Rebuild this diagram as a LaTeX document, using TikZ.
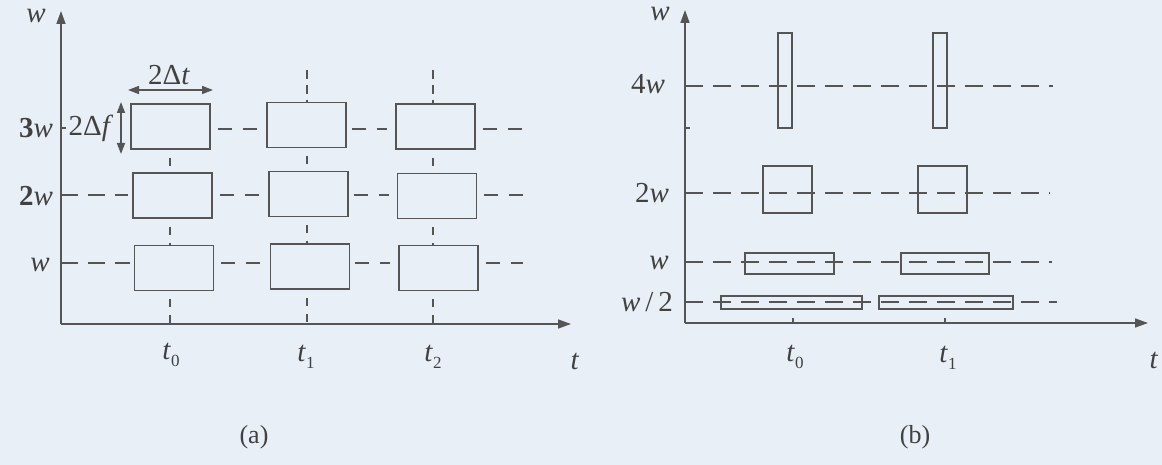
\documentclass[tikz,border=0pt]{standalone}
\usepackage{fontspec}
\setmainfont{Liberation Serif}
\usetikzlibrary{arrows.meta}
\definecolor{bg}{RGB}{232,239,246}
\definecolor{ink}{RGB}{85,85,85}
\definecolor{txt}{RGB}{65,65,65}
\newcommand{\tsub}[2]{\textit{#1}\raisebox{-7pt}{\fontsize{17}{18}\selectfont #2}}
\begin{document}
\begin{tikzpicture}[x=1pt,y=-1pt,line width=1.6pt,
  axis/.style={draw=ink,-{Triangle[length=13pt,width=9pt]}},
  dim/.style={draw=ink,{Triangle[length=11pt,width=8pt]}-{Triangle[length=11pt,width=8pt]}},
  tile/.style={draw=ink,line width=1.6pt,inner sep=0pt,minimum width=79pt,minimum height=45pt},
  bbox/.style={draw=ink,line width=1.6pt,inner sep=0pt},
  leftdash/.style={draw=ink,dash pattern=on 17pt off 10pt},
  gapdash/.style={draw=ink,dash pattern=on 14pt off 11pt},
  bdash/.style={draw=ink,dash pattern=on 18pt off 10pt},
  vgrid/.style={draw=ink,dash pattern=on 8pt off 8pt,dash phase=8pt},
  lab/.style={text=txt,inner sep=0pt,font=\fontsize{29}{32}\selectfont},
  captxt/.style={text=txt,inner sep=0pt,font=\fontsize{26}{30}\selectfont}]
\fill[bg] (0,0) rectangle (1162,465);
\useasboundingbox (0,0) rectangle (1162,465);

% ---------------- panel (a) ----------------
\coordinate (ao) at (61,324);
\coordinate (ay) at (61,11);
\coordinate (ax) at (571,324);
\draw[axis] (ao) -- (ay);
\draw[axis] (ao) -- (ax);

\node[tile] (a00) at (170.5,126.5) {};
\node[tile] (a01) at (172.5,195.5) {};
\node[tile] (a02) at (174,268) {};
\node[tile] (a10) at (306.5,125) {};
\node[tile] (a11) at (308.5,194) {};
\node[tile] (a12) at (310,266.5) {};
\node[tile] (a20) at (435.5,126.5) {};
\node[tile] (a21) at (437,196) {};
\node[tile] (a22) at (438.5,268) {};

% horizontal dashed rows
\coordinate (ay1) at (61,195);
\coordinate (ay2) at (61,263);
\coordinate (ae0) at (523,129);
\coordinate (ae1) at (523,195);
\coordinate (ae2) at (523,263);
\draw[leftdash] (ay1) -- ([xshift=-4pt]a01.west |- ay1);
\draw[leftdash] (ay2) -- ([xshift=-4pt]a02.west |- ay2);
\draw[gapdash] ([xshift=7pt]a00.east |- ae0) -- ([xshift=-8pt]a10.west |- ae0);
\draw[gapdash] ([xshift=5pt]a10.east |- ae0) -- ([xshift=-8pt]a20.west |- ae0);
\draw[gapdash] ([xshift=7pt]a20.east |- ae0) -- (ae0);
\draw[gapdash] ([xshift=7pt]a01.east |- ae1) -- ([xshift=-8pt]a11.west |- ae1);
\draw[gapdash] ([xshift=5pt]a11.east |- ae1) -- ([xshift=-8pt]a21.west |- ae1);
\draw[gapdash] ([xshift=7pt]a21.east |- ae1) -- (ae1);
\draw[gapdash] ([xshift=7pt]a02.east |- ae2) -- ([xshift=-8pt]a12.west |- ae2);
\draw[gapdash] ([xshift=5pt]a12.east |- ae2) -- ([xshift=-8pt]a22.west |- ae2);
\draw[gapdash] ([xshift=7pt]a22.east |- ae2) -- (ae2);

% vertical dashed columns
\coordinate (at0) at (170,324);
\coordinate (at1) at (307,324);
\coordinate (at2) at (433,324);
\coordinate (ac1) at (307,70);
\coordinate (ac2) at (433,70);
\draw[vgrid] (a00.south -| at0) -- (a01.north -| at0);
\draw[vgrid] (a01.south -| at0) -- (a02.north -| at0);
\draw[vgrid] (a02.south -| at0) -- (at0);
\draw[draw=ink,dash pattern=on 9pt off 6pt] (ac1) -- (a10.north -| ac1);
\draw[vgrid] (a10.south -| at1) -- (a11.north -| at1);
\draw[vgrid] (a11.south -| at1) -- (a12.north -| at1);
\draw[vgrid] (a12.south -| at1) -- (at1);
\draw[draw=ink,dash pattern=on 9pt off 6pt] (ac2) -- (a20.north -| ac2);
\draw[vgrid] (a20.south -| at2) -- (a21.north -| at2);
\draw[vgrid] (a21.south -| at2) -- (a22.north -| at2);
\draw[vgrid] (a22.south -| at2) -- (at2);

% dimension arrows
\coordinate (dt1) at (128,90);
\coordinate (dt2) at (213,90);
\draw[dim] (dt1) -- (dt2);
\node[lab] (ldt) at (169,75) {2Δ\textit{t}};
\coordinate (df1) at (121,102);
\coordinate (df2) at (121,154);
\draw[dim] (df1) -- (df2);
\node[lab] (ldf) at (91,128) {2Δ\textit{f}};
\coordinate (tk) at (66,128);
\draw[draw=ink] (tk -| ao) -- (tk);

% labels
\node[lab] (law) at (36,16) {\textit{w}};
\node[lab] (la3) at (36,128) {\textbf{3}\textit{w}};
\node[lab] (la2) at (36,196) {\textbf{2}\textit{w}};
\node[lab] (la1) at (40,265) {\textit{w}};
\node[lab] (lt0) at (171,355) {\tsub{t}{0}};
\node[lab] (lt1) at (306,357) {\tsub{t}{1}};
\node[lab] (lt2) at (433,357) {\tsub{t}{2}};
\node[lab] (lat) at (575,361) {\textit{t}};
\node[captxt] (capa) at (254,437) {(a)};

% ---------------- panel (b) ----------------
\coordinate (bo) at (685,323);
\coordinate (by) at (685,10);
\coordinate (bx) at (1148,323);
\draw[axis] (bo) -- (by);
\draw[axis] (bo) -- (bx);

\node[bbox,minimum width=14pt,minimum height=95pt] (b40) at (785,80.5) {};
\node[bbox,minimum width=14pt,minimum height=95pt] (b41) at (940,80.5) {};
\node[bbox,minimum width=49pt,minimum height=47pt] (b20) at (787.5,189.5) {};
\node[bbox,minimum width=49pt,minimum height=47pt] (b21) at (942.5,189.5) {};
\node[bbox,minimum width=89pt,minimum height=21pt] (b10) at (789.5,263.5) {};
\node[bbox,minimum width=88pt,minimum height=21pt] (b11) at (945,263.5) {};
\node[bbox,minimum width=141pt,minimum height=13pt] (b00) at (791.5,302.5) {};
\node[bbox,minimum width=134pt,minimum height=13pt] (b01) at (946,302.5) {};

\coordinate (by4) at (685,86);
\coordinate (be4) at (1053,86);
\coordinate (by2) at (685,193);
\coordinate (be2) at (1050,193);
\coordinate (by1) at (685,262);
\coordinate (be1) at (1052,262);
\coordinate (by0) at (685,302);
\coordinate (be0) at (1057,302);
\draw[bdash] (by4) -- (be4);
\draw[bdash] (by2) -- (be2);
\draw[bdash] (by1) -- (be1);
\draw[bdash] (by0) -- (be0);

\coordinate (btk) at (690,128);
\draw[draw=ink] (btk -| bo) -- (btk);
\coordinate (bt0) at (793,323);
\coordinate (bt1) at (945,323);
\draw[draw=ink] (bt0) -- ++(0,-5);
\draw[draw=ink] (bt1) -- ++(0,-5);

\node[lab] (lbw) at (660,14) {\textit{w}};
\node[lab] (lb4) at (648,84) {4\textit{w}};
\node[lab] (lb2) at (652,193) {2\textit{w}};
\node[lab] (lb1) at (659,263) {\textit{w}};
\node[lab] (lb0) at (647,302) {\textit{w}\,/\,2};
\node[lab] (lbt0) at (795,357) {\tsub{t}{0}};
\node[lab] (lbt1) at (948,358) {\tsub{t}{1}};
\node[lab] (lbt) at (1154,360) {\textit{t}};
\node[captxt] (capb) at (915,437) {(b)};
\end{tikzpicture}
\end{document}
